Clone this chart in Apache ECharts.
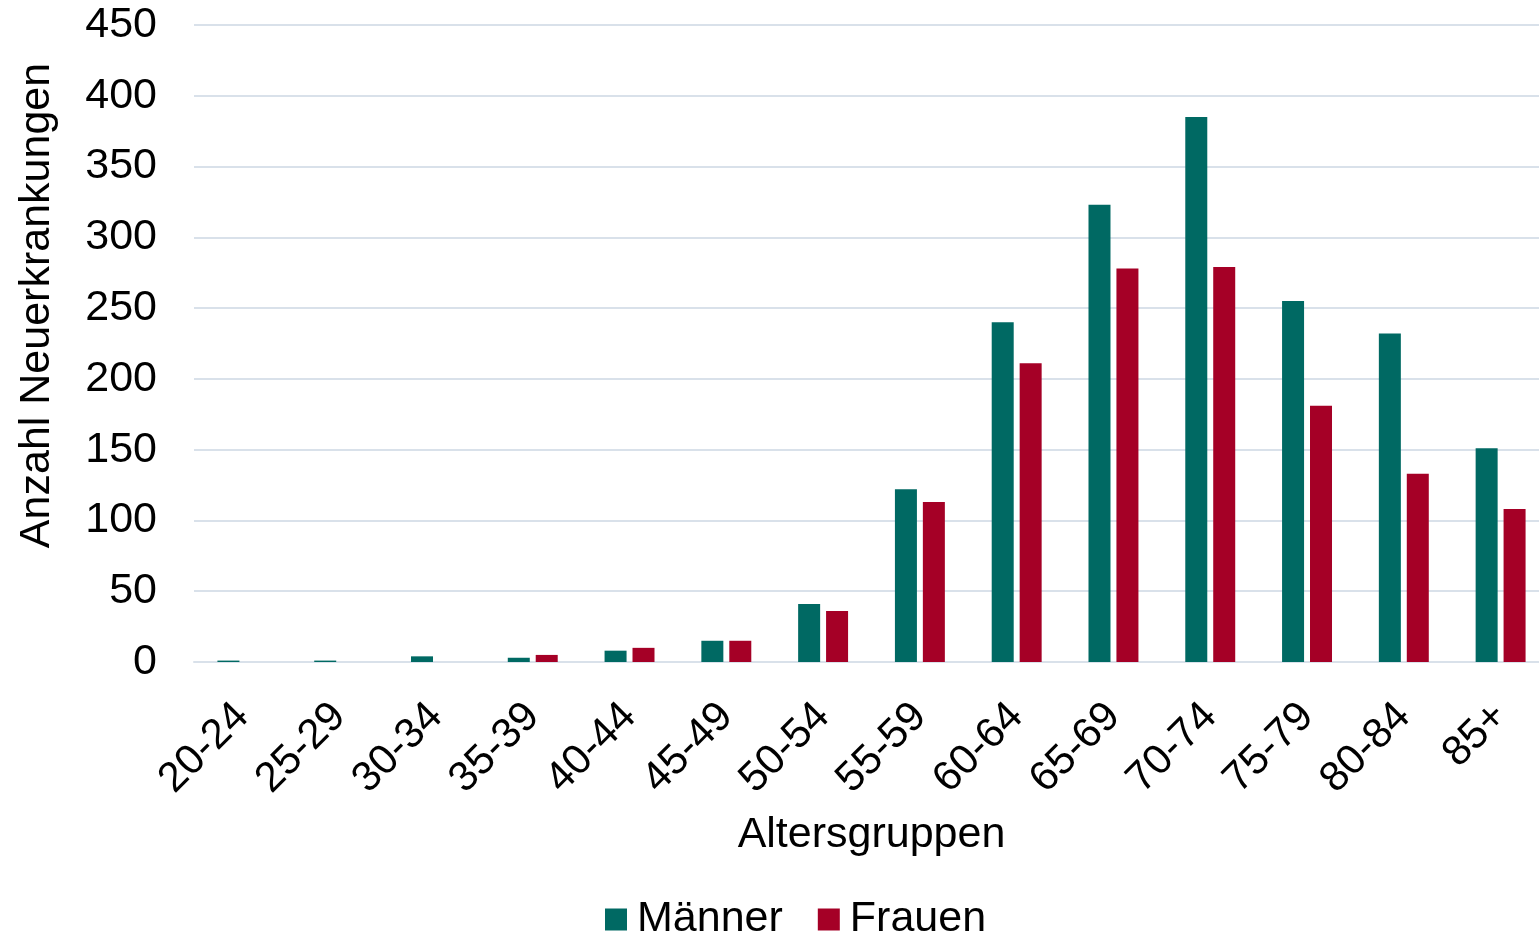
<!DOCTYPE html>
<html><head><meta charset="utf-8">
<script src="https://cdn.jsdelivr.net/npm/echarts@6/dist/echarts.min.js"></script>
<style>html,body{margin:0;padding:0;background:#fff}#c{width:1539px;height:937px}</style>
</head><body><div id="c"></div>
<script>
const categories = ['20-24','25-29','30-34','35-39','40-44','45-49','50-54','55-59','60-64','65-69','70-74','75-79','80-84','85+'];
const maenner = [1, 1, 4, 3, 8, 15, 41, 122, 240, 323, 385, 255, 232, 151];
const frauen  = [0, 0, 0, 5, 10, 15, 36, 113, 211, 278, 279, 181, 133, 108];
const yTicks = { min: 0, max: 450, interval: 50 };

const FONT = '"Liberation Sans", Arial, sans-serif';
const chart = echarts.init(document.getElementById('c'));
chart.setOption({
  animation: false,
  textStyle: { fontFamily: FONT },
  grid: { left: 194, right: -10, top: 25, bottom: 275, containLabel: false, outerBoundsMode: 'none' },
  legend: {
    data: ['Männer', 'Frauen'],
    top: 893, left: 600,
    icon: 'rect', itemWidth: 22, itemHeight: 22, itemGap: 35,
    textStyle: { fontSize: 43, color: '#000', fontFamily: FONT, padding: [0,0,0,5] }
  },
  xAxis: {
    type: 'category', data: categories,
    name: 'Altersgruppen', nameLocation: 'middle', nameGap: 152,
    nameTextStyle: { fontSize: 43, color: '#000', fontFamily: FONT },
    axisLine: { lineStyle: { color: '#d9e1ea', width: 2 } },
    axisTick: { show: false },
    axisLabel: { rotate: 45, fontSize: 42, color: '#000', margin: 48, fontFamily: FONT, interval: 0 }
  },
  yAxis: {
    type: 'value', min: yTicks.min, max: yTicks.max, interval: yTicks.interval,
    name: 'Anzahl Neuerkrankungen', nameLocation: 'middle', nameGap: 135,
    nameTextStyle: { fontSize: 43, color: '#000', fontFamily: FONT, padding: [0, 0, 0, 76] },
    axisLine: { show: false }, axisTick: { show: false },
    axisLabel: { fontSize: 43, color: '#000', margin: 37, fontFamily: FONT },
    splitLine: { lineStyle: { color: '#d9e1ea', width: 2 } }
  },
  series: [
    { name: 'Männer', type: 'bar', data: maenner, barWidth: 22, barGap: '27%',
      itemStyle: { color: '#006963' } },
    { name: 'Frauen', type: 'bar', data: frauen, barWidth: 22,
      itemStyle: { color: '#a50026' } }
  ]
});
</script></body></html>
